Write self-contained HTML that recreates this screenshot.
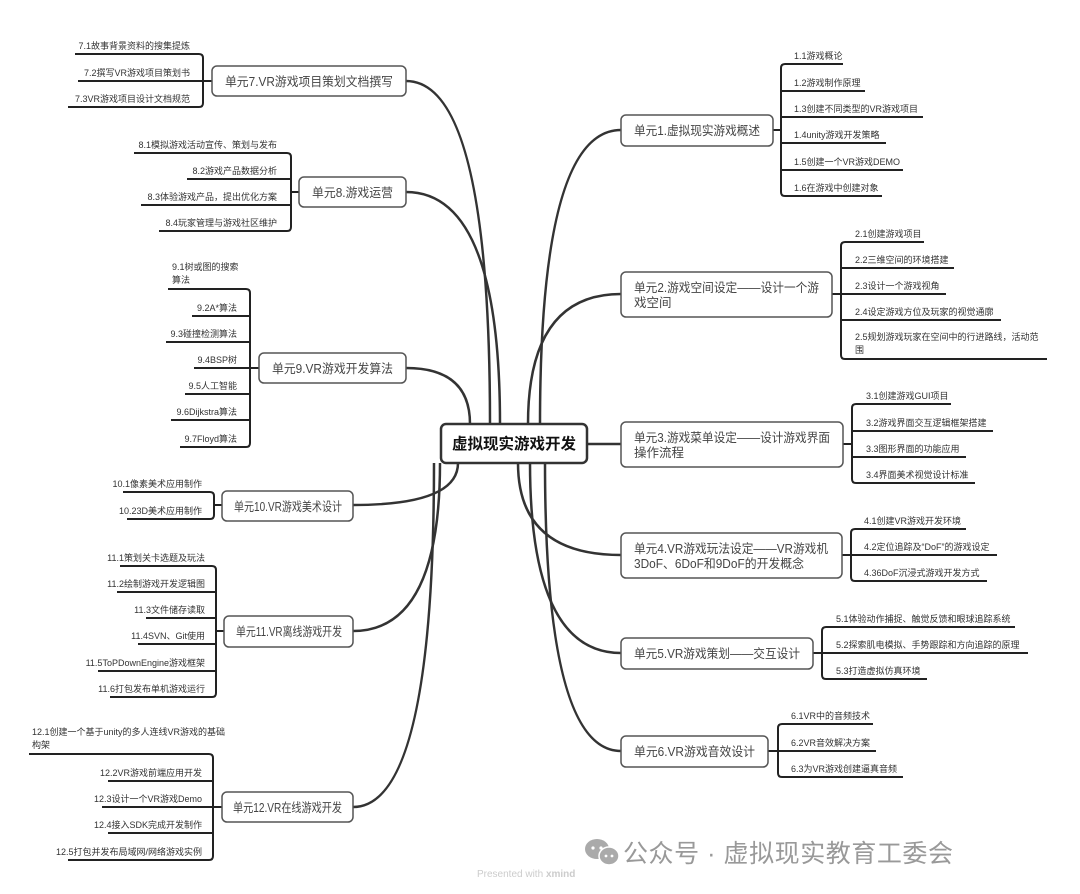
<!DOCTYPE html>
<html><head><meta charset="utf-8"><style>
html,body{margin:0;padding:0;background:#fff;}
svg{display:block;}
.b{fill:#fff;stroke:#555;stroke-width:1.5;}
.m{fill:none;stroke:#333;stroke-width:2.5;}
.l{fill:none;stroke:#222;stroke-width:2;}
.t{font-family:"Liberation Sans","Noto Sans CJK SC",sans-serif;font-size:12.5px;fill:#444;}
.s{font-family:"Liberation Sans","Noto Sans CJK SC",sans-serif;font-size:9px;fill:#333;}
.r{text-anchor:end;}
</style></head><body>
<svg width="1080" height="894" viewBox="0 0 1080 894" xmlns="http://www.w3.org/2000/svg">
<!-- main curves -->
<path class="m" d="M490,424 Q490,81 406,81"/>
<path class="m" d="M500,424 Q500,192 406,192"/>
<path class="m" d="M470,424 Q470,368 406,368"/>
<path class="m" d="M458,463 Q458,505 353,505"/>
<path class="m" d="M440,463 Q440,631 353,631"/>
<path class="m" d="M434,463 Q434,807 353,807"/>
<path class="m" d="M540,424 Q540,130 621,130"/>
<path class="m" d="M528,424 Q528,294 621,294"/>
<path class="m" d="M587,444 H621"/>
<path class="m" d="M518,463 Q518,555 621,555"/>
<path class="m" d="M530,463 Q530,653 621,653"/>
<path class="m" d="M545,463 Q545,751 621,751"/>

<!-- central -->
<rect x="441" y="424" width="146" height="39" rx="5" fill="#fff" stroke="#333" stroke-width="2.5"/>
<text x="514" y="449" text-anchor="middle" font-family="Liberation Sans,Noto Sans CJK SC,sans-serif" font-size="15.5" font-weight="bold" fill="#111">虚拟现实游戏开发</text>

<!-- RIGHT U1 -->
<path class="l" d="M773,130 H781"/>
<path class="l" d="M843,64 H785 Q781,64 781,68 V192 Q781,196 785,196 H882"/>
<path class="l" d="M781,91 H865 M781,117 H923 M781,143 H886 M781,170 H903"/>
<rect class="b" x="621" y="115" width="152" height="31" rx="5"/>
<text class="t" x="634" y="135" textLength="126" lengthAdjust="spacingAndGlyphs">单元1.虚拟现实游戏概述</text>
<text class="s" x="794" y="59">1.1游戏概论</text>
<text class="s" x="794" y="86">1.2游戏制作原理</text>
<text class="s" x="794" y="112">1.3创建不同类型的VR游戏项目</text>
<text class="s" x="794" y="138">1.4unity游戏开发策略</text>
<text class="s" x="794" y="165">1.5创建一个VR游戏DEMO</text>
<text class="s" x="794" y="191">1.6在游戏中创建对象</text>

<!-- U2 -->
<path class="l" d="M832,294 H841"/>
<path class="l" d="M924,242 H845 Q841,242 841,246 V355 Q841,359 845,359 H1047"/>
<path class="l" d="M841,268 H954 M841,294 H946 M841,320 H1001"/>
<rect class="b" x="621" y="272" width="211" height="45" rx="5"/>
<text class="t" x="634" y="292" textLength="185" lengthAdjust="spacingAndGlyphs">单元2.游戏空间设定——设计一个游</text>
<text class="t" x="634" y="307">戏空间</text>
<text class="s" x="855" y="237">2.1创建游戏项目</text>
<text class="s" x="855" y="263">2.2三维空间的环境搭建</text>
<text class="s" x="855" y="289">2.3设计一个游戏视角</text>
<text class="s" x="855" y="315">2.4设定游戏方位及玩家的视觉通廓</text>
<text class="s" x="855" y="340">2.5规划游戏玩家在空间中的行进路线，活动范</text>
<text class="s" x="855" y="353">围</text>

<!-- U3 -->
<path class="l" d="M843,444 H852"/>
<path class="l" d="M951,404 H856 Q852,404 852,408 V479 Q852,483 856,483 H975"/>
<path class="l" d="M852,431 H993 M852,457 H966"/>
<rect class="b" x="621" y="422" width="222" height="45" rx="5"/>
<text class="t" x="634" y="442" textLength="196" lengthAdjust="spacingAndGlyphs">单元3.游戏菜单设定——设计游戏界面</text>
<text class="t" x="634" y="457">操作流程</text>
<text class="s" x="866" y="399">3.1创建游戏GUI项目</text>
<text class="s" x="866" y="426">3.2游戏界面交互逻辑框架搭建</text>
<text class="s" x="866" y="452">3.3图形界面的功能应用</text>
<text class="s" x="866" y="478">3.4界面美术视觉设计标准</text>

<!-- U4 -->
<path class="l" d="M842,555 H851"/>
<path class="l" d="M966,529 H855 Q851,529 851,533 V577 Q851,581 855,581 H987"/>
<path class="l" d="M851,555 H997"/>
<rect class="b" x="621" y="533" width="221" height="45" rx="5"/>
<text class="t" x="634" y="553" textLength="194" lengthAdjust="spacingAndGlyphs">单元4.VR游戏玩法设定——VR游戏机</text>
<text class="t" x="634" y="568" textLength="170" lengthAdjust="spacingAndGlyphs">3DoF、6DoF和9DoF的开发概念</text>
<text class="s" x="864" y="524">4.1创建VR游戏开发环境</text>
<text class="s" x="864" y="550">4.2定位追踪及“DoF”的游戏设定</text>
<text class="s" x="864" y="576">4.36DoF沉浸式游戏开发方式</text>

<!-- U5 -->
<path class="l" d="M813,653 H822"/>
<path class="l" d="M1015,627 H826 Q822,627 822,631 V675 Q822,679 826,679 H927"/>
<path class="l" d="M822,653 H1028"/>
<rect class="b" x="621" y="638" width="192" height="31" rx="5"/>
<text class="t" x="634" y="658" textLength="166" lengthAdjust="spacingAndGlyphs">单元5.VR游戏策划——交互设计</text>
<text class="s" x="836" y="622">5.1体验动作捕捉、触觉反馈和眼球追踪系统</text>
<text class="s" x="836" y="648">5.2探索肌电模拟、手势跟踪和方向追踪的原理</text>
<text class="s" x="836" y="674">5.3打造虚拟仿真环境</text>

<!-- U6 -->
<path class="l" d="M768,751 H778"/>
<path class="l" d="M873,724 H782 Q778,724 778,728 V773 Q778,777 782,777 H903"/>
<path class="l" d="M778,751 H876"/>
<rect class="b" x="621" y="736" width="147" height="31" rx="5"/>
<text class="t" x="634" y="756" textLength="121" lengthAdjust="spacingAndGlyphs">单元6.VR游戏音效设计</text>
<text class="s" x="791" y="719">6.1VR中的音频技术</text>
<text class="s" x="791" y="746">6.2VR音效解决方案</text>
<text class="s" x="791" y="772">6.3为VR游戏创建逼真音频</text>

<!-- LEFT U7 -->
<path class="l" d="M212,81 H203"/>
<path class="l" d="M75,54 H199 Q203,54 203,58 V103 Q203,107 199,107 H68"/>
<path class="l" d="M78,81 H203"/>
<rect class="b" x="212" y="66" width="194" height="30" rx="5"/>
<text class="t" x="225" y="86" textLength="168" lengthAdjust="spacingAndGlyphs">单元7.VR游戏项目策划文档撰写</text>
<text class="s r" x="190" y="49">7.1故事背景资料的搜集提炼</text>
<text class="s r" x="190" y="76">7.2撰写VR游戏项目策划书</text>
<text class="s r" x="190" y="102">7.3VR游戏项目设计文档规范</text>

<!-- U8 -->
<path class="l" d="M299,192 H291"/>
<path class="l" d="M134,153 H287 Q291,153 291,157 V227 Q291,231 287,231 H159"/>
<path class="l" d="M187,179 H291 M141,205 H291"/>
<rect class="b" x="299" y="177" width="107" height="30" rx="5"/>
<text class="t" x="312" y="197" textLength="81" lengthAdjust="spacingAndGlyphs">单元8.游戏运营</text>
<text class="s r" x="277" y="148">8.1模拟游戏活动宣传、策划与发布</text>
<text class="s r" x="277" y="174">8.2游戏产品数据分析</text>
<text class="s r" x="277" y="200">8.3体验游戏产品，提出优化方案</text>
<text class="s r" x="277" y="226">8.4玩家管理与游戏社区维护</text>

<!-- U9 -->
<path class="l" d="M259,368 H250"/>
<path class="l" d="M168,289 H246 Q250,289 250,293 V443 Q250,447 246,447 H180"/>
<path class="l" d="M192,316 H250 M166,342 H250 M194,368 H250 M185,394 H250 M171,420 H250"/>
<rect class="b" x="259" y="353" width="147" height="30" rx="5"/>
<text class="t" x="272" y="373" textLength="121" lengthAdjust="spacingAndGlyphs">单元9.VR游戏开发算法</text>
<text class="s" x="172" y="270">9.1树或图的搜索</text>
<text class="s" x="172" y="283">算法</text>
<text class="s r" x="237" y="311">9.2A*算法</text>
<text class="s r" x="237" y="337">9.3碰撞检测算法</text>
<text class="s r" x="237" y="363">9.4BSP树</text>
<text class="s r" x="237" y="389">9.5人工智能</text>
<text class="s r" x="237" y="415">9.6Dijkstra算法</text>
<text class="s r" x="237" y="442">9.7Floyd算法</text>

<!-- U10 -->
<path class="l" d="M222,505 H214"/>
<path class="l" d="M123,492 H210 Q214,492 214,496 V515 Q214,519 210,519 H127"/>
<rect class="b" x="222" y="491" width="131" height="30" rx="5"/>
<text class="t" x="234" y="511" textLength="108" lengthAdjust="spacingAndGlyphs">单元10.VR游戏美术设计</text>
<text class="s r" x="202" y="487">10.1像素美术应用制作</text>
<text class="s r" x="202" y="514">10.23D美术应用制作</text>

<!-- U11 -->
<path class="l" d="M224,631 H216"/>
<path class="l" d="M120,566 H212 Q216,566 216,570 V693 Q216,697 212,697 H110"/>
<path class="l" d="M117,592 H216 M146,618 H216 M138,644 H216 M98,671 H216"/>
<rect class="b" x="224" y="616" width="129" height="31" rx="5"/>
<text class="t" x="236" y="636" textLength="106" lengthAdjust="spacingAndGlyphs">单元11.VR离线游戏开发</text>
<text class="s r" x="205" y="561">11.1策划关卡选题及玩法</text>
<text class="s r" x="205" y="587">11.2绘制游戏开发逻辑图</text>
<text class="s r" x="205" y="613">11.3文件储存读取</text>
<text class="s r" x="205" y="639">11.4SVN、Git使用</text>
<text class="s r" x="205" y="666">11.5ToPDownEngine游戏框架</text>
<text class="s r" x="205" y="692">11.6打包发布单机游戏运行</text>

<!-- U12 -->
<path class="l" d="M222,807 H213"/>
<path class="l" d="M29,754 H209 Q213,754 213,758 V856 Q213,860 209,860 H68"/>
<path class="l" d="M108,781 H213 M102,807 H213 M108,833 H213"/>
<rect class="b" x="222" y="792" width="131" height="30" rx="5"/>
<text class="t" x="233" y="812" textLength="109" lengthAdjust="spacingAndGlyphs">单元12.VR在线游戏开发</text>
<text class="s" x="32" y="735">12.1创建一个基于unity的多人连线VR游戏的基础</text>
<text class="s" x="32" y="748">构架</text>
<text class="s r" x="202" y="776">12.2VR游戏前端应用开发</text>
<text class="s r" x="202" y="802">12.3设计一个VR游戏Demo</text>
<text class="s r" x="202" y="828">12.4接入SDK完成开发制作</text>
<text class="s r" x="202" y="855">12.5打包并发布局域网/网络游戏实例</text>

<!-- watermark -->
<g fill="#aaa">
<ellipse cx="597" cy="849" rx="12" ry="10"/>
<ellipse cx="609" cy="856" rx="10" ry="9" stroke="#fff" stroke-width="1.5"/>
<circle cx="593" cy="848" r="1.6" fill="#fff"/><circle cx="601" cy="848" r="1.6" fill="#fff"/>
<circle cx="606" cy="856" r="1.4" fill="#fff"/><circle cx="612" cy="856" r="1.4" fill="#fff"/>
</g>
<text x="623" y="862" font-family="Liberation Sans,Noto Sans CJK SC,sans-serif" font-size="25" fill="#999" textLength="330">公众号 · 虚拟现实教育工委会</text>
<text x="477" y="877" font-family="Liberation Sans,sans-serif" font-size="10" fill="#ccc">Presented with <tspan font-weight="bold">xmind</tspan></text>
</svg>
</body></html>
